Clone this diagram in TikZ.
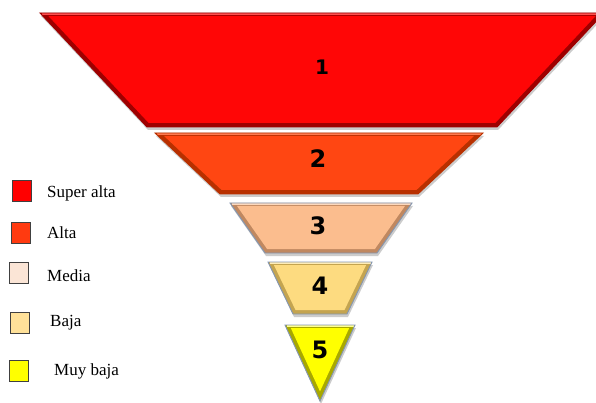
\documentclass[tikz,border=0pt]{standalone}
\usepackage{fontspec}
\setmainfont{Liberation Serif}
\newfontfamily\numfont{DejaVu Sans}
\usetikzlibrary{calc}
\definecolor{cA}{HTML}{FF0606}\definecolor{cAd}{HTML}{9E0000}\definecolor{cAl}{HTML}{FF5050}
\definecolor{cB}{HTML}{FF4612}\definecolor{cBd}{HTML}{B83000}\definecolor{cBl}{HTML}{FF7A50}
\definecolor{cC}{HTML}{FBBD8E}\definecolor{cCd}{HTML}{C08860}\definecolor{cCl}{HTML}{FDD8BC}
\definecolor{cD}{HTML}{FDDB80}\definecolor{cDd}{HTML}{C4A450}\definecolor{cDl}{HTML}{FFEDB8}
\definecolor{cE}{HTML}{FFFF00}\definecolor{cEd}{HTML}{A8A800}\definecolor{cEl}{HTML}{FFFF90}
\definecolor{edgeb}{HTML}{8496B0}
\definecolor{lgA}{HTML}{FF0000}\definecolor{lgB}{HTML}{FF3A10}\definecolor{lgC}{HTML}{FBE5D6}
\definecolor{lgD}{HTML}{FFE199}\definecolor{lgE}{HTML}{FFFF00}
\tikzset{
  num/.style={font=\numfont\bfseries\fontsize{24}{24}\selectfont, text=black, inner sep=0pt},
  legbox/.style={draw=black!75, line width=1.1pt, minimum width=19pt, minimum height=21pt, inner sep=0pt},
  legtext/.style={anchor=west, font=\fontsize{17}{18}\selectfont, inner sep=0pt},
}
% cx, top, bottom, top half width, bottom half width, main, dark, light, outline
\newcommand\fseg[9]{%
\pgfmathsetmacro\fs{(#4-#5)/(#3-#2)}%
\pgfmathsetmacro\fh{4*sqrt(1+\fs*\fs)}%
\pgfmathsetmacro\ft{#2+3}%
\pgfmathsetmacro\fb{min(#3-4, #2+(#4-\fh)/\fs)}%
\pgfmathsetmacro\fwt{#4-\fs*3-\fh}%
\pgfmathsetmacro\fwb{max(0,#4-\fs*(\fb-#2)-\fh)}%
\fill[black!20] ({#1-#4+1},{#2+3}) -- ({#1+#4+1},{#2+3}) -- ({#1+#5+1},{#3+3}) -- ({#1-#5+1},{#3+3}) -- cycle;
\fill[#7] ({#1-#4},#2) -- ({#1+#4},#2) -- ({#1+#5},#3) -- ({#1-#5},#3) -- cycle;
\fill[#6] ({#1-\fwt},\ft) -- ({#1+\fwt},\ft) -- ({#1+\fwb},\fb) -- ({#1-\fwb},\fb) -- cycle;
\draw[#8, line width=1.5pt] ({#1-#4+1.5},{#2+1}) -- ({#1+#4-1.5},{#2+1});
\draw[#9, line width=0.9pt, line join=miter] ({#1-#4},#2) -- ({#1+#4},#2) -- ({#1+#5},#3) -- ({#1-#5},#3) -- cycle;
}
\begin{document}
\begin{tikzpicture}[x=1pt,y=-1pt]
\useasboundingbox[fill=white] (0,0) rectangle (596,403);
\begin{scope}
\clip (0,0) rectangle (596,403);
\fseg{322}{13}{127}{282}{175}{cA}{cAd}{cAl}{cAd}
\fseg{319}{133}{194}{164}{99}{cB}{cBd}{cBl}{cBd}
\fseg{321}{203}{253}{91}{56}{cC}{cCd}{cCl}{edgeb}
\fseg{320}{262}{314}{52}{27}{cD}{cDd}{cDl}{edgeb}
\fseg{320}{325}{401}{35}{0}{cE}{cEd}{cEl}{edgeb}
\end{scope}
\node[num, font=\numfont\bfseries\fontsize{20}{20}\selectfont] (n1) at (322,67) {1};
\node[num] (n2) at (318,159) {2};
\node[num] (n3) at (318,226) {3};
\node[num] (n4) at (320,286) {4};
\node[num] (n5) at (320,350) {5};
\node[legbox, fill=lgA] (s1) at (22,191) {};
\node[legbox, fill=lgB] (s2) at (21,233) {};
\node[legbox, fill=lgC] (s3) at (19,273) {};
\node[legbox, fill=lgD] (s4) at (20,323) {};
\node[legbox, fill=lgE] (s5) at (19,371) {};
\node[legtext] (t1) at (47,193) {Super alta};
\node[legtext] (t2) at (47,233) {Alta};
\node[legtext] (t3) at (47,276) {Media};
\node[legtext] (t4) at (50,323) {Baja};
\node[legtext] (t5) at (54,371) {Muy baja};
\end{tikzpicture}
\end{document}
